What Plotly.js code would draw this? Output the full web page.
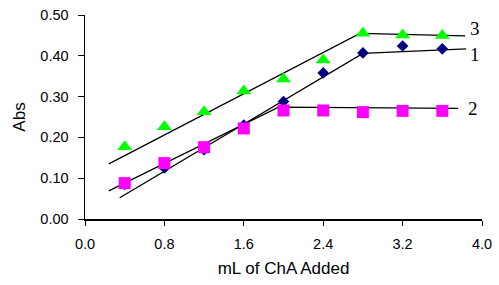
<!DOCTYPE html>
<html><head><meta charset="utf-8">
<script src="https://cdn.plot.ly/plotly-3.0.1.min.js"></script>
<style>html,body{margin:0;padding:0;background:#fff}</style>
</head><body><div id="chart" style="width:499px;height:285px"></div>
<script>
const xVals = [0.4, 0.8, 1.2, 1.6, 2.0, 2.4, 2.8, 3.2, 3.6];
const series1 = [0.085, 0.125, 0.17, 0.23, 0.288, 0.358, 0.407, 0.424, 0.417];
const series2 = [0.088, 0.137, 0.176, 0.222, 0.266, 0.266, 0.262, 0.265, 0.265];
const series3 = [0.177, 0.226, 0.263, 0.314, 0.343, 0.39, 0.455, 0.451, 0.45];
const fit1X = [0.35, 2.8, 3.84];
const fit1Y = [0.052, 0.406, 0.417];
const fit2X = [0.24, 1.95, 3.76];
const fit2Y = [0.069, 0.274, 0.271];
const fit3X = [0.24, 2.77, 3.83];
const fit3Y = [0.135, 0.455, 0.449];
const seriesLabels = ['1', '2', '3'];
const labelX = [3.93, 3.91, 3.93];
const labelY = [0.402, 0.272, 0.466];

const lineStyle = {color: '#000', width: 1.3};
const traces = [
  {x: fit1X, y: fit1Y, mode: 'lines', line: lineStyle, hoverinfo: 'skip'},
  {x: fit2X, y: fit2Y, mode: 'lines', line: lineStyle, hoverinfo: 'skip'},
  {x: fit3X, y: fit3Y, mode: 'lines', line: lineStyle, hoverinfo: 'skip'},
  {x: xVals, y: series1, mode: 'markers', marker: {symbol: 'diamond', size: 9, color: '#000080'}},
  {x: xVals, y: series3, mode: 'markers', marker: {symbol: 'triangle-up', size: 13, color: '#00FF00'}},
  {x: xVals, y: series2, mode: 'markers', marker: {symbol: 'square', size: 12, color: '#FF00FF'}}
];
const layout = {
  width: 499, height: 285,
  margin: {l: 85, r: 17, t: 15, b: 66},
  showlegend: false,
  paper_bgcolor: '#fff', plot_bgcolor: '#fff',
  font: {family: 'Liberation Sans, Arial, sans-serif', size: 14.5, color: '#000'},
  xaxis: {range: [0, 4], dtick: 0.8, tick0: 0, tickformat: '.1f', showgrid: false, zeroline: false,
    showline: true, linecolor: '#000', linewidth: 1.5, ticks: 'outside', ticklen: 5, tickcolor: '#000',
    ticklabelstandoff: 6,
    title: {text: 'mL of ChA Added', standoff: 11, font: {size: 17}}},
  yaxis: {range: [0, 0.5], dtick: 0.1, tick0: 0, tickformat: '.2f', showgrid: false, zeroline: false,
    showline: true, linecolor: '#000', linewidth: 1.5, ticks: 'outside', ticklen: 6, tickcolor: '#000',
    ticklabelstandoff: 6,
    title: {text: 'Abs', standoff: 10, font: {size: 17}}},
  annotations: seriesLabels.map((t, i) => ({x: labelX[i], y: labelY[i], text: t, showarrow: false,
    xanchor: 'center', yanchor: 'middle', font: {family: 'Liberation Serif, Times New Roman, serif', size: 19, color: '#000'}}))
};
Plotly.newPlot('chart', traces, layout, {staticPlot: true});
</script></body></html>
